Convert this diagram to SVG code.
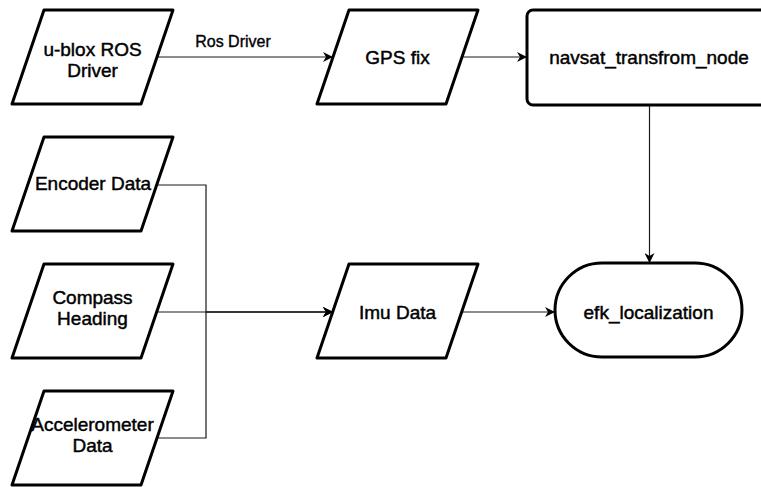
<svg xmlns="http://www.w3.org/2000/svg" width="761" height="487" viewBox="0 0 761 487">
  <style>
    .node { fill: #ffffff; stroke: #000000; stroke-width: 3; stroke-linejoin: round; }
    .label { font-family: "Liberation Sans", Arial, Helvetica, sans-serif; font-size: 19px; fill: #000000; stroke: #000000; stroke-width: 0.45; text-anchor: middle; }
    .edge-label { font-family: "Liberation Sans", Arial, Helvetica, sans-serif; font-size: 16px; fill: #000000; stroke: #000000; stroke-width: 0.35; text-anchor: middle; }
    .edge { fill: none; stroke: #1a1a1a; stroke-width: 1.2; }
  </style>
  <defs>
    <marker id="arrow" markerUnits="userSpaceOnUse" markerWidth="12" markerHeight="10" refX="10" refY="5" orient="auto">
      <path d="M0,0 L10,5 L0,10 L3,5 Z" fill="#000000"/>
    </marker>
  </defs>
  <rect x="0" y="0" width="761" height="487" fill="#ffffff"/>

  <g id="connectors">
    <path class="edge" d="M157,57 L333,57" marker-end="url(#arrow)"/>
    <path class="edge" d="M462,57 L527,57" marker-end="url(#arrow)"/>
    <path class="edge" d="M649.5,105 L649.5,263" marker-end="url(#arrow)"/>
    <path class="edge" d="M157,185 L206,185 L206,312 L333,312" marker-end="url(#arrow)"/>
    <path class="edge" d="M157,312 L333,312" marker-end="url(#arrow)"/>
    <path class="edge" d="M157,438 L206,438 L206,312 L333,312" marker-end="url(#arrow)"/>
    <path class="edge" d="M462,312 L555,312" marker-end="url(#arrow)"/>
    <text class="edge-label" x="233" y="47">Ros Driver</text>
  </g>

  <g id="ublox">
    <path class="node" d="M44,10 L173,10 L141,104 L12,104 Z"/>
    <text class="label" x="92.5" y="56">u-blox ROS</text>
    <text class="label" x="92.5" y="77">Driver</text>
  </g>

  <g id="gpsfix">
    <path class="node" d="M349,10 L478,10 L446,104 L317,104 Z"/>
    <text class="label" x="397.5" y="64">GPS fix</text>
  </g>

  <g id="navsat">
    <rect class="node" x="527" y="10" width="245" height="95" rx="6" ry="6"/>
    <text class="label" x="649" y="64">navsat_transfrom_node</text>
  </g>

  <g id="encoder">
    <path class="node" d="M44,137 L173,137 L141,231 L12,231 Z"/>
    <text class="label" x="93" y="190">Encoder Data</text>
  </g>

  <g id="compass">
    <path class="node" d="M44,264 L173,264 L141,358 L12,358 Z"/>
    <text class="label" x="92.5" y="304">Compass</text>
    <text class="label" x="92.5" y="325">Heading</text>
  </g>

  <g id="accelerometer">
    <path class="node" d="M44,391 L173,391 L141,485 L12,485 Z"/>
    <text class="label" x="92.5" y="431">Accelerometer</text>
    <text class="label" x="92.5" y="452">Data</text>
  </g>

  <g id="imu">
    <path class="node" d="M349,264 L478,264 L446,358 L317,358 Z"/>
    <text class="label" x="397.5" y="319">Imu Data</text>
  </g>

  <g id="efk">
    <rect class="node" x="555" y="263" width="187" height="94" rx="47" ry="47"/>
    <text class="label" x="648.5" y="319">efk_localization</text>
  </g>
</svg>
